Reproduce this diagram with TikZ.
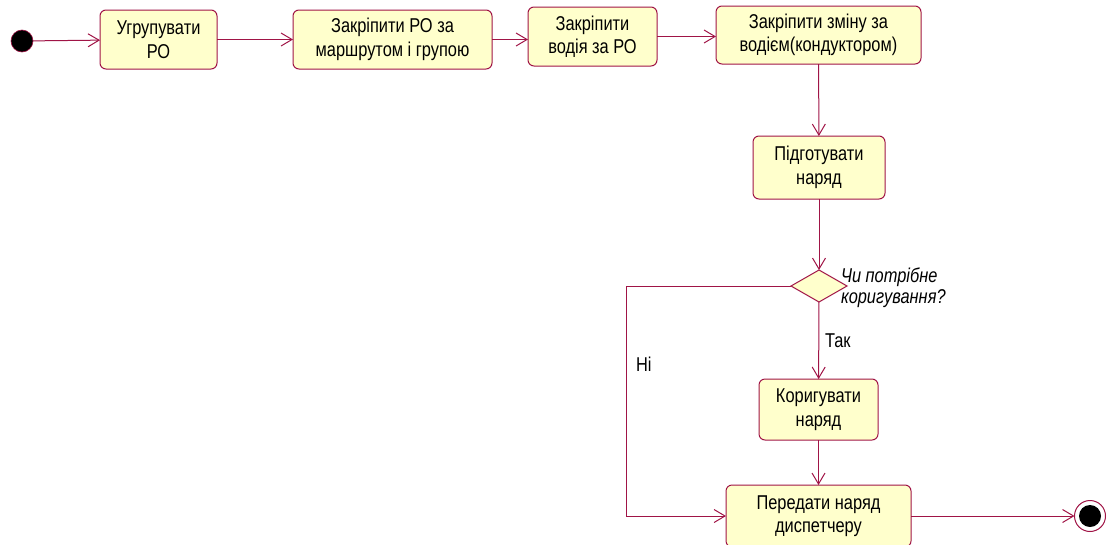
\documentclass[tikz,border=0pt]{standalone}
\usepackage{fontspec}
\setmainfont{Liberation Sans}[FakeStretch=0.82]
\usetikzlibrary{arrows.meta,shapes.geometric}
\definecolor{umlline}{RGB}{160,20,70}
\definecolor{umlfill}{RGB}{255,255,204}
\begin{document}
\begin{tikzpicture}[x=1pt,y=-1pt,
  every node/.style={inner sep=0pt,outer sep=0pt},
  activity/.style={draw=umlline,fill=umlfill,line width=1pt,rounded corners=6pt,
    align=center,font=\fontsize{20}{23.5}\selectfont},
  flow/.style={draw=umlline,line width=1pt,-{Straight Barb[length=11pt,width=13pt]}},
  decision/.style={diamond,draw=umlline,fill=umlfill,line width=1pt,minimum width=56pt,minimum height=32pt,aspect=1.75},
  guard/.style={font=\fontsize{20}{21}\selectfont},
]
\useasboundingbox (0,0) rectangle (1108,544);
% start and final states
\node[circle,fill=black,draw=umlline,line width=0.6pt,minimum size=22pt] (start) at (22,41) {};
\node[circle,draw=umlline,fill=white,line width=1pt,minimum size=31pt] (final) at (1090,516) {};
\node[circle,fill=black,minimum size=22pt] at (final) {};
% activities
\node[activity,minimum width=117pt,minimum height=59pt] (a1) at (158.5,39.5) {Угрупувати\\РО};
\node[activity,minimum width=199pt,minimum height=59pt] (a2) at (392.5,39.5) {Закріпити РО за\\маршрутом і групою};
\node[activity,minimum width=129pt,minimum height=59pt] (a3) at (592.5,36.5) {Закріпити\\водія за РО};
\node[activity,minimum width=205pt,minimum height=58pt] (a4) at (818.5,35) {Закріпити зміну за\\водієм(кондуктором)};
\node[activity,minimum width=132pt,minimum height=63pt] (a5) at (819,167.5) {Підготувати\\наряд};
\node[decision] (d) at (819,286) {};
\node[activity,minimum width=119pt,minimum height=61pt] (a6) at (818.5,409.5) {Коригувати\\наряд};
\node[activity,minimum width=185pt,minimum height=62pt] (a7) at (818.5,516) {Передати наряд\\диспетчеру};
% labels
\node[guard,anchor=west,align=left,font=\fontsize{20}{21}\selectfont\itshape] (q) at (841,288) {Чи потрібне\\коригування?};
\node[guard,anchor=west] (yes) at (825,341) {Так};
\node[guard,anchor=west] (no) at (636,364) {Ні};
% flows
\draw[flow] (start) -- (a1);
\draw[flow] (a1) -- (a2);
\draw[flow] (a2.east) -- (a3.west |- a2.east);
\draw[flow] (a3.east) -- (a4.west |- a3.east);
\draw[flow] (a4) -- (a5);
\draw[flow] (a5) -- (d);
\draw[flow] (d) -- (a6);
\draw[flow] (a6) -- (a7);
\draw[flow] (d.west) -- (626,286) -- (626,516) -- (a7.west);
\draw[flow] (a7) -- (final);
\end{tikzpicture}
\end{document}
